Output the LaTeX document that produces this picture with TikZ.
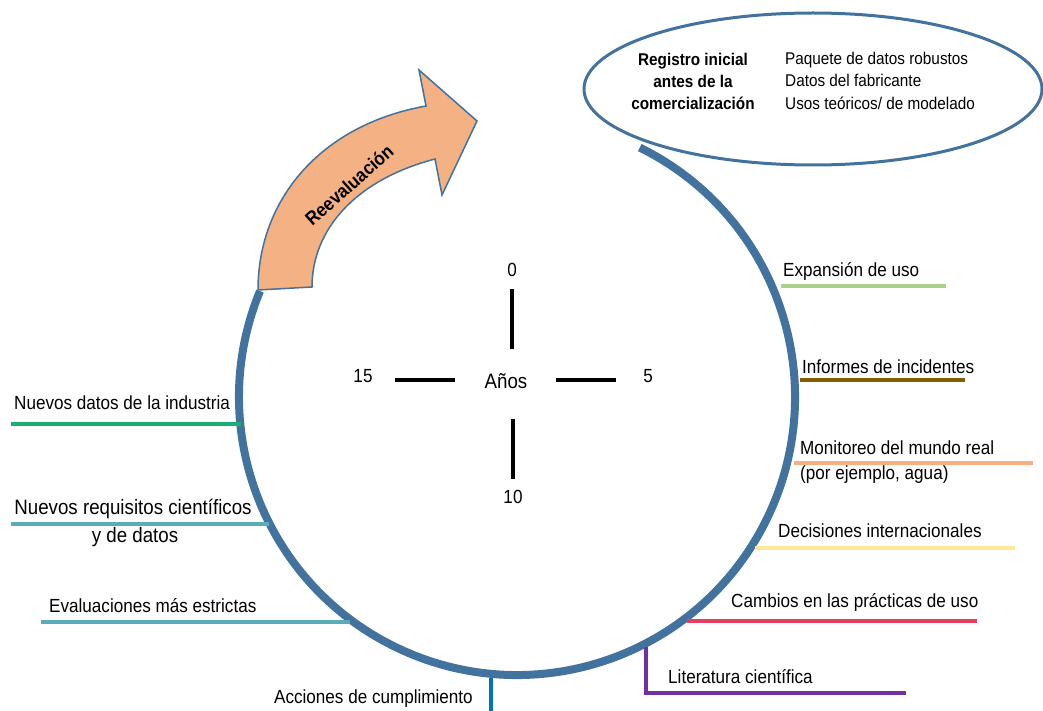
\documentclass[tikz,border=0pt]{standalone}
\usepackage{fontspec}
\setmainfont[FakeStretch=0.9]{Liberation Sans}
\usetikzlibrary{calc,shapes.geometric}

\definecolor{ring}{RGB}{66,114,158}
\definecolor{peach}{RGB}{244,177,131}
\definecolor{cExpa}{RGB}{169,209,142}
\definecolor{cInfo}{RGB}{127,96,0}
\definecolor{cMoni}{RGB}{244,177,131}
\definecolor{cDeci}{RGB}{255,230,153}
\definecolor{cCamb}{RGB}{224,64,94}
\definecolor{cLite}{RGB}{112,48,160}
\definecolor{cAcci}{RGB}{0,112,192}
\definecolor{cIndu}{RGB}{27,174,118}
\definecolor{cTeal}{RGB}{91,171,184}

\begin{document}
\begin{tikzpicture}[x=1pt,y=1pt,
  lbl/.style={inner sep=0pt, font=\fontsize{19}{22}\selectfont},
  biglbl/.style={inner sep=0pt, font=\fontsize{20.8}{24}\selectfont},
  small/.style={inner sep=0pt, font=\fontsize{17}{20}\selectfont},
  smallbold/.style={inner sep=0pt, font=\bfseries\fontsize{17}{20}\selectfont},
  tag/.style={line width=4.5pt},
  tick/.style={line width=4.5pt, black}]
\useasboundingbox (0,0) rectangle (1043,-711);
\fill[white] (0,0) rectangle (1043,-711);

% --- the life-cycle ring ---
\coordinate (ctr) at (517,-397);
\draw[ring, line width=8pt] ($(ctr)+(63.8:278)$) arc[start angle=63.8, end angle=-202.4, radius=278];

% --- curved re-evaluation arrow ---
\draw[ring, line width=1.5pt, fill=peach, line join=miter]
  (258,-290) .. controls (258,-200) and (320,-125) .. (426,-106)
  -- (419,-70) -- (477,-121) -- (442,-195) -- (435,-159)
  .. controls (355,-180) and (312,-230) .. (312,-287) -- cycle;
\node[inner sep=0pt, font=\bfseries\fontsize{19}{22}\selectfont, rotate=41.5] (reeval) at (349,-185) {Reevaluación};

% --- initial registration ellipse ---
\node[draw=ring, line width=3pt, ellipse, inner sep=0pt, minimum width=458pt, minimum height=152pt] (reg) at (813,-89) {};
\node[smallbold, anchor=base] (reg1) at (693,-66) {Registro inicial};
\node[smallbold, anchor=base] (reg2) at (693,-88) {antes de la};
\node[smallbold, anchor=base] (reg3) at (693,-110) {comercialización};
\node[small, anchor=base west] (dat1) at (785,-65) {Paquete de datos robustos};
\node[small, anchor=base west] (dat2) at (785,-87) {Datos del fabricante};
\node[small, anchor=base west] (dat3) at (785,-110) {Usos teóricos/ de modelado};

% --- years cross ---
\node[lbl, anchor=base] (y0) at (512,-276) {0};
\node[lbl, anchor=base] (y5) at (648,-382) {5};
\node[lbl, anchor=base] (y10) at (513,-503) {10};
\node[lbl, anchor=base] (y15) at (363,-382) {15};
\node[biglbl, anchor=base] (anos) at (506,-388) {Años};
\coordinate (tA1) at (512,-289); \coordinate (tA2) at (512,-349);
\coordinate (tB1) at (556,-380); \coordinate (tB2) at (616,-380);
\coordinate (tC1) at (513,-419); \coordinate (tC2) at (513,-479);
\coordinate (tD1) at (395,-380); \coordinate (tD2) at (455,-380);
\draw[tick] (tA1) -- (tA2);
\draw[tick] (tB1) -- (tB2);
\draw[tick] (tC1) -- (tC2);
\draw[tick] (tD1) -- (tD2);

% --- events on the right ---
\node[lbl, anchor=base west] (expa) at (783,-276) {Expansión de uso};
\coordinate (expaA) at (781,-286); \coordinate (expaB) at (946,-286);
\draw[tag, cExpa] (expaA) -- (expaB);

\node[lbl, anchor=base west] (info) at (802,-373) {Informes de incidentes};
\coordinate (infoA) at (800,-380); \coordinate (infoB) at (965,-380);
\draw[tag, cInfo] (infoA) -- (infoB);

\node[lbl, anchor=base west] (moni1) at (800,-454) {Monitoreo del mundo real};
\node[lbl, anchor=base west] (moni2) at (800,-479) {(por ejemplo, agua)};
\coordinate (moniA) at (794,-463); \coordinate (moniB) at (1033,-463);
\draw[tag, cMoni] (moniA) -- (moniB);

\node[lbl, anchor=base west] (deci) at (778,-537) {Decisiones internacionales};
\coordinate (deciA) at (755,-548); \coordinate (deciB) at (1015,-548);
\draw[tag, cDeci] (deciA) -- (deciB);

\node[lbl, anchor=base west] (camb) at (731,-607) {Cambios en las prácticas de uso};
\coordinate (cambA) at (687,-621); \coordinate (cambB) at (977,-621);
\draw[tag, cCamb] (cambA) -- (cambB);

\node[lbl, anchor=base west] (lite) at (668,-683) {Literatura científica};
\coordinate (liteA) at (646,-647); \coordinate (liteC) at (646,-693); \coordinate (liteB) at (906,-693);
\draw[tag, cLite, line join=miter] (liteA) -- (liteC) -- (liteB);

% --- events on the left ---
\node[lbl, anchor=base west] (indu) at (14,-409) {Nuevos datos de la industria};
\coordinate (induA) at (11,-424); \coordinate (induB) at (241,-424);
\draw[tag, cIndu] (induA) -- (induB);

\node[biglbl, anchor=base] (req1) at (133,-514) {Nuevos requisitos científicos};
\node[biglbl, anchor=base] (req2) at (135,-542) {y de datos};
\coordinate (reqA) at (11,-524); \coordinate (reqB) at (269,-524);
\draw[tag, cTeal] (reqA) -- (reqB);

\node[lbl, anchor=base west] (eval) at (49,-612) {Evaluaciones más estrictas};
\coordinate (evalA) at (41,-622); \coordinate (evalB) at (350,-622);
\draw[tag, cTeal] (evalA) -- (evalB);

\node[lbl, anchor=base east] (acci) at (473,-703) {Acciones de cumplimiento};
\coordinate (acciA) at (491,-678); \coordinate (acciB) at (491,-711);
\draw[tag, cAcci] (acciA) -- (acciB);
\end{tikzpicture}
\end{document}
